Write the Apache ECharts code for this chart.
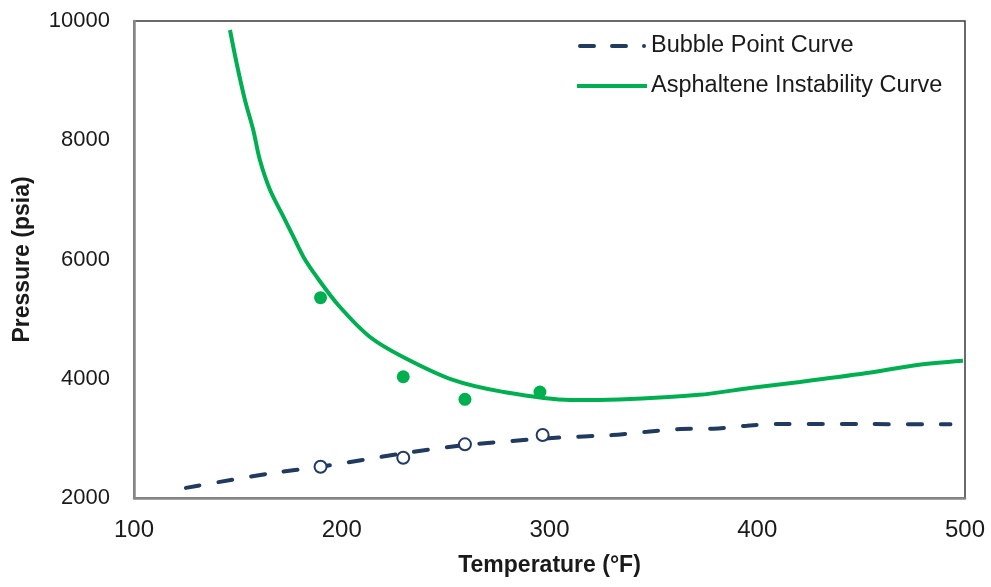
<!DOCTYPE html>
<html>
<head>
<meta charset="utf-8">
<script src="https://cdn.jsdelivr.net/npm/echarts@6/dist/echarts.min.js"></script>
<style>
html,body{margin:0;padding:0;background:#fff;}
#chart{width:991px;height:587px;}
</style>
</head>
<body>
<div id="chart"></div>
<script>
const xTicks = [100, 200, 300, 400, 500];
const yTicks = [2000, 4000, 6000, 8000, 10000];

const bubbleCurve = [
  [125, 2170], [165, 2410], [190, 2525], [230, 2750], [260, 2890],
  [303, 3010], [330, 3055], [347, 3112], [363, 3157], [379, 3162],
  [395, 3213], [409, 3241], [450, 3240], [493, 3236]
];
const asphalteneCurve = [
  [146.2, 9849], [149.4, 9291], [153.4, 8675], [157.4, 8172], [160.6, 7669],
  [165.5, 7166], [171.9, 6718], [176.7, 6383], [181.5, 6048], [187.9, 5712],
  [198.3, 5237], [213.6, 4700], [229.5, 4365], [253.5, 3980], [277.6, 3780],
  [310, 3645], [324, 3645], [372, 3730], [396.5, 3845], [420.6, 3945],
  [452.8, 4095], [477, 4230], [499, 4300]
];
const asphalteneMeasured = [[189.8, 5360], [229.6, 4034], [259.3, 3655], [295.4, 3778]];
const bubbleMeasured = [[189.8, 2525], [229.6, 2676], [259.3, 2900], [296.7, 3057]];

const navy = '#203a60';
const green = '#00b050';

const dashIcon = 'path://M2,0 h14 a2,2 0 0 1 0,4 h-14 a2,2 0 0 1 0,-4 z M34,0 h14 a2,2 0 0 1 0,4 h-14 a2,2 0 0 1 0,-4 z M66,0 a2,2 0 0 1 0,4 a2,2 0 0 1 0,-4 z';
const solidIcon = 'path://M0,0 h70 v4 h-70 z';

const chart = echarts.init(document.getElementById('chart'), null, {renderer: 'canvas'});
chart.setOption({
  animation: false,
  backgroundColor: '#fff',
  grid: {left: 134, right: 26, top: 21, bottom: 89, show: true, borderColor: '#3a3a3a', borderWidth: 1.5},
  legend: {
    data: [
      {name: 'Bubble Point Curve', icon: dashIcon},
      {name: 'Asphaltene Instability Curve', icon: solidIcon}
    ],
    orient: 'vertical',
    left: 572, top: 29,
    itemWidth: 72, itemHeight: 4, itemGap: 16,
    textStyle: {fontFamily: 'Liberation Sans, Arial, sans-serif', fontSize: 23.5, color: '#1a1a1a', padding: [0,0,0,-2]}
  },
  xAxis: {
    type: 'value', min: 100, max: 500, interval: 100,
    name: 'Temperature (°F)', nameLocation: 'middle', nameGap: 56,
    nameTextStyle: {fontFamily: 'Liberation Sans, Arial, sans-serif', fontWeight: 'bold', fontSize: 23, color: '#1a1a1a'},
    axisLine: {show: true, lineStyle: {color: '#888', width: 2.5}},
    axisTick: {show: false},
    splitLine: {show: false},
    axisLabel: {
      margin: 20, fontSize: 24, color: '#1a1a1a',
      fontFamily: 'Liberation Sans, Arial, sans-serif',
      formatter: v => xTicks.includes(v) ? String(v) : ''
    }
  },
  yAxis: {
    type: 'value', min: 2000, max: 10000, interval: 2000,
    name: 'Pressure (psia)', nameLocation: 'middle', nameGap: 100, nameRotate: 90,
    nameTextStyle: {fontFamily: 'Liberation Sans, Arial, sans-serif', fontWeight: 'bold', fontSize: 23, color: '#1a1a1a'},
    axisLine: {show: true, lineStyle: {color: '#888', width: 2.5}},
    axisTick: {show: false},
    splitLine: {show: false},
    axisLabel: {
      margin: 24, fontSize: 22, color: '#1a1a1a',
      fontFamily: 'Liberation Sans, Arial, sans-serif',
      formatter: v => yTicks.includes(v) ? String(v) : ''
    }
  },
  series: [
    {
      name: 'Bubble Point Curve', type: 'line', data: bubbleCurve, smooth: 0.3,
      symbol: 'none', z: 3,
      lineStyle: {color: navy, width: 4, type: [14, 19], cap: 'round'},
      itemStyle: {color: navy}
    },
    {
      name: 'Asphaltene Instability Curve', type: 'line', data: asphalteneCurve, smooth: 0.3,
      symbol: 'none', z: 3,
      lineStyle: {color: green, width: 4},
      itemStyle: {color: green}
    },
    {
      name: 'Asphaltene measured', type: 'scatter', data: asphalteneMeasured,
      symbol: 'circle', symbolSize: 13, z: 4,
      itemStyle: {color: green, opacity: 1}
    },
    {
      name: 'Bubble measured', type: 'scatter', data: bubbleMeasured,
      symbol: 'circle', symbolSize: 12, z: 5,
      itemStyle: {color: '#fff', borderColor: navy, borderWidth: 2, opacity: 1}
    }
  ]
});
</script>
</body>
</html>
